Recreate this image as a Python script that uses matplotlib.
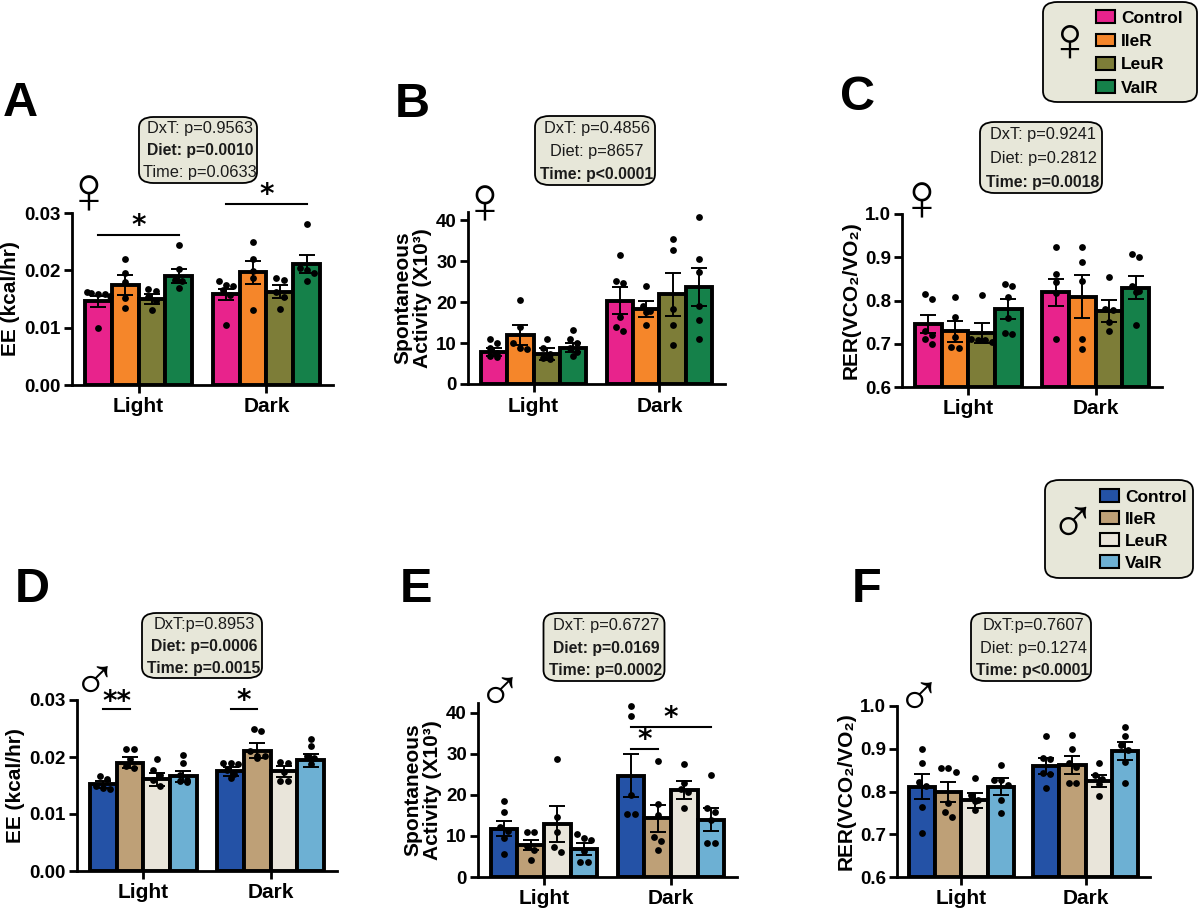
import numpy as np
import matplotlib
matplotlib.use("Agg")
import matplotlib.pyplot as plt
from matplotlib.patches import FancyBboxPatch, Patch

plt.rcParams['font.family'] = ['Liberation Sans', 'DejaVu Sans']

groups = ["Control", "IleR", "LeuR", "ValR"]
times = ["Light", "Dark"]
female_colors = ["#E8238C", "#F5862A", "#7D7D38", "#15814A"]
male_colors = ["#2452A6", "#BEA077", "#E9E5DA", "#6DB0D3"]

# ---- panel A: EE female ----
a_mean_light = [0.0146, 0.0174, 0.0150, 0.0190]
a_mean_dark = [0.0158, 0.0197, 0.0163, 0.0211]
a_sem_light = [0.0010, 0.0017, 0.0009, 0.0012]
a_sem_dark = [0.0010, 0.0020, 0.0012, 0.0015]
a_pts_light = [[0.0161, 0.0159, 0.0163, 0.0155, 0.0099, 0.0158],
               [0.0220, 0.0196, 0.0179, 0.0151, 0.0134],
               [0.0167, 0.0164, 0.0154, 0.0147, 0.0130],
               [0.0245, 0.0202, 0.0183, 0.0181, 0.0169]]
a_pts_dark = [[0.0181, 0.0172, 0.0166, 0.0175, 0.0157, 0.0105],
              [0.0249, 0.0220, 0.0198, 0.0186, 0.0131],
              [0.0186, 0.0183, 0.0163, 0.0154, 0.0132],
              [0.0280, 0.0204, 0.0200, 0.0195, 0.0181]]

# ---- panel B: activity female ----
b_mean_light = [7.9, 12.0, 7.3, 8.9]
b_mean_dark = [20.3, 18.3, 21.9, 23.7]
b_sem_light = [1.0, 2.4, 1.4, 1.2]
b_sem_dark = [3.3, 1.9, 5.3, 4.6]
b_pts_light = [[9.9, 10.9, 8.7, 6.8, 6.6, 7.5],
               [20.5, 14.0, 9.9, 8.5, 8.7],
               [10.9, 8.7, 7.3, 6.3, 6.0],
               [13.3, 10.9, 10.1, 8.9, 6.8, 7.8]]
b_pts_dark = [[31.6, 25.2, 24.6, 16.3, 14.0, 13.0],
              [23.9, 19.1, 17.5, 17.8, 14.4],
              [35.3, 32.8, 18.3, 14.4, 9.5],
              [40.7, 30.5, 27.4, 19.1, 15.6, 10.9]]

# ---- panel C: RER female ----
c_mean_light = [0.745, 0.729, 0.725, 0.780]
c_mean_dark = [0.819, 0.809, 0.776, 0.830]
c_sem_light = [0.021, 0.024, 0.024, 0.023]
c_sem_dark = [0.031, 0.049, 0.025, 0.027]
c_pts_light = [[0.814, 0.803, 0.730, 0.710, 0.700, 0.720],
               [0.807, 0.762, 0.715, 0.693, 0.690],
               [0.813, 0.708, 0.710, 0.708, 0.703],
               [0.834, 0.838, 0.809, 0.759, 0.725, 0.722]]
c_pts_dark = [[0.923, 0.862, 0.842, 0.817, 0.710],
              [0.923, 0.890, 0.844, 0.712, 0.689],
              [0.854, 0.780, 0.778, 0.751, 0.730],
              [0.908, 0.900, 0.834, 0.820, 0.743, 0.822]]

# ---- panel D: EE male ----
d_mean_light = [0.0152, 0.0190, 0.0161, 0.0166]
d_mean_dark = [0.0175, 0.0211, 0.0175, 0.0194]
d_sem_light = [0.0006, 0.0010, 0.0011, 0.0009]
d_sem_dark = [0.0008, 0.0013, 0.0010, 0.0012]
d_pts_light = [[0.0166, 0.0162, 0.0150, 0.0143, 0.0146],
               [0.0214, 0.0214, 0.0197, 0.0180, 0.0184],
               [0.0197, 0.0177, 0.0168, 0.0159, 0.0150],
               [0.0204, 0.0189, 0.0169, 0.0159, 0.0158, 0.0157]]
d_pts_dark = [[0.0190, 0.0188, 0.0190, 0.0178, 0.0171, 0.0163],
              [0.0249, 0.0245, 0.0211, 0.0201, 0.0201, 0.0199],
              [0.0192, 0.0190, 0.0173, 0.0158, 0.0158],
              [0.0231, 0.0220, 0.0201, 0.0198, 0.0187]]

# ---- panel E: activity male ----
e_mean_light = [11.8, 7.8, 12.9, 6.8]
e_mean_dark = [24.7, 14.3, 21.2, 14.0]
e_sem_light = [1.9, 1.2, 4.4, 1.4]
e_sem_dark = [5.3, 3.3, 2.1, 2.7]
e_pts_light = [[18.4, 15.9, 12.2, 11.3, 9.4, 5.7],
               [11.0, 11.0, 7.5, 6.5, 4.1],
               [28.8, 14.7, 11.0, 7.3, 6.1],
               [10.4, 9.1, 9.4, 6.4, 3.7, 3.7]]
e_pts_dark = [[41.6, 39.3, 20.0, 15.3, 15.3],
              [28.2, 17.8, 15.1, 9.8, 8.8, 6.5],
              [27.5, 22.9, 21.4, 20.6, 16.7],
              [24.9, 16.7, 15.9, 13.9, 8.2, 8.2]]

# ---- panel F: RER male ----
f_mean_light = [0.811, 0.799, 0.779, 0.811]
f_mean_dark = [0.860, 0.862, 0.825, 0.894]
f_sem_light = [0.029, 0.024, 0.017, 0.020]
f_sem_dark = [0.019, 0.020, 0.014, 0.021]
f_pts_light = [[0.899, 0.866, 0.823, 0.812, 0.763, 0.704],
               [0.854, 0.854, 0.846, 0.772, 0.753, 0.741],
               [0.831, 0.792, 0.780, 0.778, 0.757],
               [0.862, 0.827, 0.827, 0.815, 0.780, 0.749]]
f_pts_dark = [[0.930, 0.879, 0.875, 0.843, 0.840, 0.809],
              [0.932, 0.899, 0.867, 0.857, 0.820, 0.820],
              [0.867, 0.839, 0.829, 0.818, 0.789],
              [0.950, 0.930, 0.909, 0.897, 0.870, 0.820]]

# two-way ANOVA summaries
stats_A = [("DxT: p=0.9563", False), ("Diet: p=0.0010", True), ("Time: p=0.0633", False)]
stats_B = [("DxT: p=0.4856", False), ("Diet: p=8657", False), ("Time: p<0.0001", True)]
stats_C = [("DxT: p=0.9241", False), ("Diet: p=0.2812", False), ("Time: p=0.0018", True)]
stats_D = [("DxT:p=0.8953", False), ("Diet: p=0.0006", True), ("Time: p=0.0015", True)]
stats_E = [("DxT: p=0.6727", False), ("Diet: p=0.0169", True), ("Time: p=0.0002", True)]
stats_F = [("DxT:p=0.7607", False), ("Diet: p=0.1274", False), ("Time: p<0.0001", True)]

W, H = 1200, 910
fig = plt.figure(figsize=(W / 100, H / 100), dpi=100)
BOX_FC = "#E7E7D9"
SYM_FONT = ["Liberation Sans", "DejaVu Sans"]
bar_w = 0.21
offs = (np.arange(4) - 1.5) * bar_w


def fx(px):
    return px / W


def fy(py):
    return 1 - py / H


def spread(vals, thr):
    # simple column scatter: close values get pushed sideways
    vals = np.asarray(vals)
    order = np.argsort(-vals)
    xs = np.zeros(len(vals))
    i = 0
    while i < len(order):
        j = i
        while j + 1 < len(order) and vals[order[i]] - vals[order[j + 1]] < thr:
            j += 1
        k = j - i + 1
        step = bar_w * 0.27
        o = (np.arange(k) - (k - 1) / 2) * step
        o = np.clip(o, -bar_w * 0.42, bar_w * 0.42)
        xs[order[i:j + 1]] = o
        i = j + 1
    return xs


def panel(rect, ylim, yticks, yfmt, ylabel, mean_l, mean_d, sem_l, sem_d,
          pts_l, pts_d, colors):
    ax = fig.add_axes([fx(rect[0]), fy(rect[3]), fx(rect[1] - rect[0]),
                       (rect[3] - rect[2]) / H])
    thr = (ylim[1] - ylim[0]) * 0.035
    for t, (means, sems, pts) in enumerate([(mean_l, sem_l, pts_l),
                                            (mean_d, sem_d, pts_d)]):
        xs = t + offs
        ax.bar(xs, np.array(means) - ylim[0], bottom=ylim[0], width=bar_w,
               color=colors, edgecolor="black", linewidth=2.8, zorder=2)
        ax.errorbar(xs, means, yerr=sems, fmt="none", ecolor="black",
                    elinewidth=1.4, capsize=6, capthick=1.4, zorder=3)
        for g in range(4):
            px = xs[g] + spread(pts[g], thr)
            ax.scatter(px, pts[g], s=24, color="black", zorder=4,
                       clip_on=False, linewidths=0)
    ax.set_xlim(-0.52, 1.52)
    ax.set_ylim(*ylim)
    ax.set_yticks(yticks)
    ax.set_yticklabels([yfmt.format(v) for v in yticks])
    ax.set_xticks([0, 1])
    ax.set_xticklabels(times)
    for s in ["top", "right"]:
        ax.spines[s].set_visible(False)
    for s in ["left", "bottom"]:
        ax.spines[s].set_linewidth(2)
    ax.tick_params(width=2, length=6, labelsize=13.5, pad=2)
    ax.tick_params(axis="x", labelsize=15, pad=3)
    for lab in ax.get_xticklabels() + ax.get_yticklabels():
        lab.set_fontweight("bold")
    ax.set_ylabel(ylabel, fontsize=15, fontweight="bold", labelpad=3,
                  linespacing=1.05)
    return ax


def stats_box(cx, top, bottom, lines, width=118):
    h = bottom - top
    box = FancyBboxPatch((fx(cx - width / 2), fy(bottom)), width / W, h / H,
                         boxstyle="round,pad=0,rounding_size=0.012",
                         transform=fig.transFigure, facecolor=BOX_FC,
                         edgecolor="black", linewidth=1.3)
    fig.add_artist(box)
    for i, (txt, bold) in enumerate(lines):
        yy = top + h * (i + 0.5) / 3 + 1
        fig.text(fx(cx + 2), fy(yy), txt, ha="center", va="center",
                 fontsize=11.3 if bold else 11.8,
                 fontweight="bold" if bold else "normal", color="#1a1a1a")


def sig(ax, x0, x1, y, ystar, label):
    ax.plot([x0, x1], [y, y], color="black", lw=1.5, clip_on=False)
    ax.text((x0 + x1) / 2, ystar, label, ha="center", va="center",
            fontsize=20, fontweight="bold", family="DejaVu Sans")


def sex(px, py, sym, size=48):
    fig.text(fx(px), fy(py), sym, ha="center", va="center", fontsize=size,
             family=SYM_FONT)


# top row (female)
axA = panel((72, 333, 213, 385), (0, 0.03), [0, 0.01, 0.02, 0.03], "{:.2f}",
            "EE (kcal/hr)", a_mean_light, a_mean_dark, a_sem_light, a_sem_dark,
            a_pts_light, a_pts_dark, female_colors)
axB = panel((468, 725, 212, 384), (0, 42), [0, 10, 20, 30, 40], "{:.0f}",
            "Spontaneous\nActivity (X10³)", b_mean_light, b_mean_dark,
            b_sem_light, b_sem_dark, b_pts_light, b_pts_dark, female_colors)
axC = panel((902, 1162, 214, 387), (0.6, 1.0), [0.6, 0.7, 0.8, 0.9, 1.0],
            "{:.1f}", "RER(VCO₂/VO₂)", c_mean_light, c_mean_dark, c_sem_light,
            c_sem_dark, c_pts_light, c_pts_dark, female_colors)

# bottom row (male)
axD = panel((77, 337, 700, 871), (0, 0.03), [0, 0.01, 0.02, 0.03], "{:.2f}",
            "EE (kcal/hr)", d_mean_light, d_mean_dark, d_sem_light, d_sem_dark,
            d_pts_light, d_pts_dark, male_colors)
axE = panel((478, 737, 703, 877), (0, 42.4), [0, 10, 20, 30, 40], "{:.0f}",
            "Spontaneous\nActivity (X10³)", e_mean_light, e_mean_dark,
            e_sem_light, e_sem_dark, e_pts_light, e_pts_dark, male_colors)
axF = panel((897, 1150, 706, 877), (0.6, 1.0), [0.6, 0.7, 0.8, 0.9, 1.0],
            "{:.1f}", "RER(VCO₂/VO₂)", f_mean_light, f_mean_dark, f_sem_light,
            f_sem_dark, f_pts_light, f_pts_dark, male_colors)

# significance brackets
sig(axA, offs[0], offs[3], 0.0262, 0.0278, "*")
sig(axA, 1 + offs[0], 1 + offs[3], 0.0315, 0.0331, "*")
sig(axD, offs[0], offs[1], 0.0284, 0.0297, "**")
sig(axD, 1 + offs[0], 1 + offs[1], 0.0284, 0.0299, "*")
sig(axE, 1 + offs[0], 1 + offs[3], 36.5, 38.8, "*")
sig(axE, 1 + offs[0], 1 + offs[1], 31.3, 33.3, "*")

# ANOVA boxes
stats_box(198, 117, 183, stats_A)
stats_box(595, 116, 185, stats_B, width=120)
stats_box(1041, 122, 193, stats_C, width=122)
stats_box(202, 613, 678, stats_D, width=120)
stats_box(604, 613, 681, stats_E, width=121)
stats_box(1031, 613, 681, stats_F, width=120)

# panel letters
for lab, px, py in [("A", 3, 116), ("B", 395, 117), ("C", 840, 110),
                    ("D", 15, 602), ("E", 400, 602), ("F", 852, 602)]:
    fig.text(fx(px), fy(py), lab, fontsize=35, fontweight="bold",
             ha="left", va="baseline")

# sex symbols next to the y axes
sex(89, 196, "♀")
sex(485, 206, "♀")
sex(922, 203, "♀")
sex(95, 685, "♂", size=44)
sex(500, 696, "♂", size=44)
sex(919, 701, "♂", size=44)

# legends
for (x0, y0, x1, y1, colors, sym, sx, sy, lx, ly, sp) in [
        (1043, 2, 1197, 102, female_colors, "♀", 1069, 44, 1096, 53, 0.45),
        (1045, 480, 1193, 578, male_colors, "♂", 1072, 526, 1100, 530, 0.38)]:
    fig.add_artist(FancyBboxPatch((fx(x0), fy(y1)), (x1 - x0) / W, (y1 - y0) / H,
                                  boxstyle="round,pad=0,rounding_size=0.012",
                                  transform=fig.transFigure, facecolor=BOX_FC,
                                  edgecolor="black", linewidth=1.3))
    sex(sx, sy, sym, size=46)
    handles = [Patch(facecolor=c, edgecolor="black", linewidth=1.5) for c in colors]
    fig.legend(handles, groups, loc="center left", bbox_to_anchor=(fx(lx), fy(ly)),
               frameon=False, prop={"weight": "bold", "size": 12.5},
               handlelength=1.1, handleheight=0.75, handletextpad=0.35,
               labelspacing=sp, borderpad=0, borderaxespad=0)

fig.savefig("out.png", dpi=100)
